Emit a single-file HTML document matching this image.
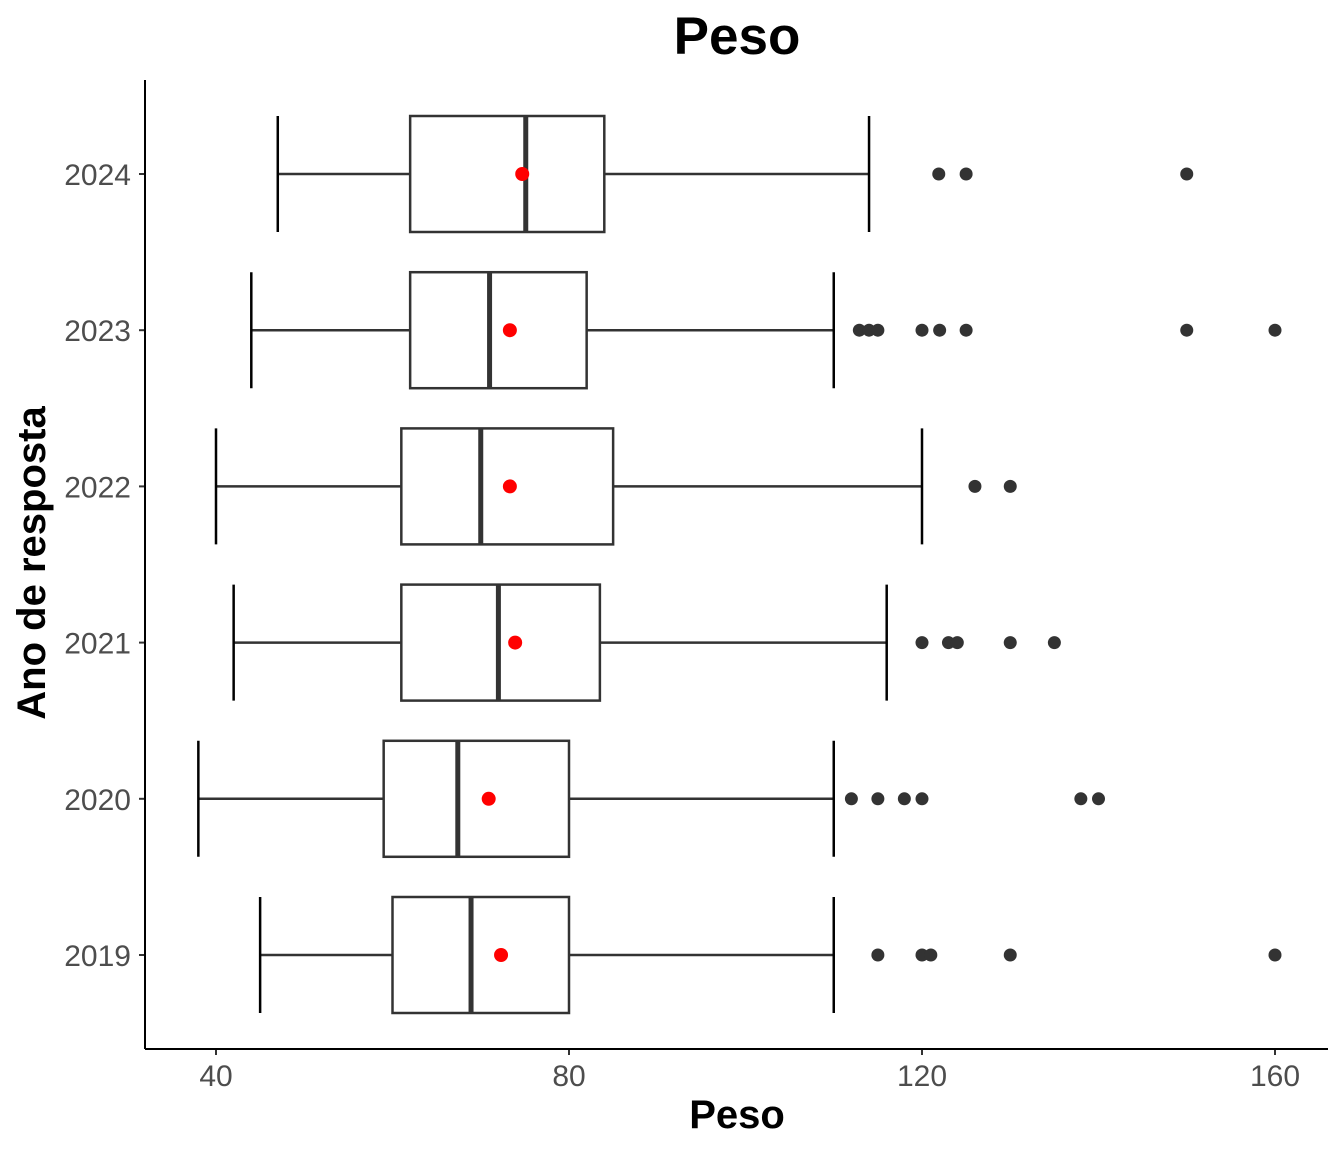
<!DOCTYPE html>
<html><head><meta charset="utf-8"><style>
body{margin:0;background:#fff}
svg{display:block;font-family:"Liberation Sans",Arial,sans-serif}
</style></head><body>
<svg id="chart" width="1344" height="1152">
<text x="737" y="54" text-anchor="middle" font-size="53" font-weight="bold">Peso</text>
<text x="737" y="1128" text-anchor="middle" font-size="40" font-weight="bold">Peso</text>
<text transform="translate(45,563) rotate(-90)" text-anchor="middle" font-size="40" font-weight="bold">Ano de resposta</text>
<g id="marks"></g>
<line x1="145" y1="80" x2="145" y2="1049" stroke="#000" stroke-width="2"/>
<line x1="145" y1="1049" x2="1328" y2="1049" stroke="#000" stroke-width="2"/>
</svg>
<script>
const years=["2024","2023","2022","2021","2020","2019"];
const lows=[47,44,40,42,38,45];
const q1s=[62,62,61,61,59,60];
const medians=[75.1,71,70,72,67.4,68.9];
const q3s=[84,82,85,83.5,80,80];
const highs=[114,110,120,116,110,110];
const means=[74.7,73.3,73.3,73.9,70.9,72.3];
const outliers=[[121.9,125,150],[112.9,114,115,120,122,125,150,160],[126,130],[120,123,124,130,135],[112,115,118,120,138,140],[115,120,121,130,160]];
const xTicks=[40,80,120,160];
const NS="http://www.w3.org/2000/svg";
const g=document.getElementById('marks');
function xs(v){return 216+(v-40)*8.825;}
function ys(i){return 174+i*156.2;}
function mk(t,a){const e=document.createElementNS(NS,t);for(const k in a)e.setAttribute(k,a[k]);g.appendChild(e);return e;}
xTicks.forEach(t=>{
 const l=mk('line',{x1:xs(t),x2:xs(t),y1:1049,y2:1055,stroke:'#333','stroke-width':2});
 
 
 const tx=mk('text',{x:xs(t),y:1086,'text-anchor':'middle','font-size':30,fill:'#4d4d4d'});tx.textContent=t;
 
 
});
years.forEach((yr,i)=>{
 const y=ys(i);
 const tk=mk('line',{x1:139,x2:145,y1:y,y2:y,stroke:'#333','stroke-width':2});
 
 
 const tl=mk('text',{x:131,y:y+11,'text-anchor':'end','font-size':30,fill:'#4d4d4d'});tl.textContent=yr;
 
 
 const w1=mk('line',{x1:xs(lows[i]),x2:xs(q1s[i]),y1:y,y2:y,stroke:'#333','stroke-width':2.5});
 
 
 const w2=mk('line',{x1:xs(q3s[i]),x2:xs(highs[i]),y1:y,y2:y,stroke:'#333','stroke-width':2.5});
 
 
 const c1=mk('line',{x1:xs(lows[i]),x2:xs(lows[i]),y1:y-58,y2:y+58,stroke:'#000','stroke-width':2.5});
 
 
 const c2=mk('line',{x1:xs(highs[i]),x2:xs(highs[i]),y1:y-58,y2:y+58,stroke:'#000','stroke-width':2.5});
 
 
 const b=mk('rect',{x:xs(q1s[i]),y:y-58,width:xs(q3s[i])-xs(q1s[i]),height:116,fill:'#fff',stroke:'#333','stroke-width':2.5});
 
 
 const m=mk('line',{x1:xs(medians[i]),x2:xs(medians[i]),y1:y-58,y2:y+58,stroke:'#333','stroke-width':5});
 
 
 outliers[i].forEach(v=>{
  const o=mk('circle',{cx:xs(v),cy:y,r:6.5,fill:'#333'});
  
  
 });
 const mn=mk('circle',{cx:xs(means[i]),cy:y,r:7,fill:'#ff0000'});
 
 
});
</script>
</body></html>
